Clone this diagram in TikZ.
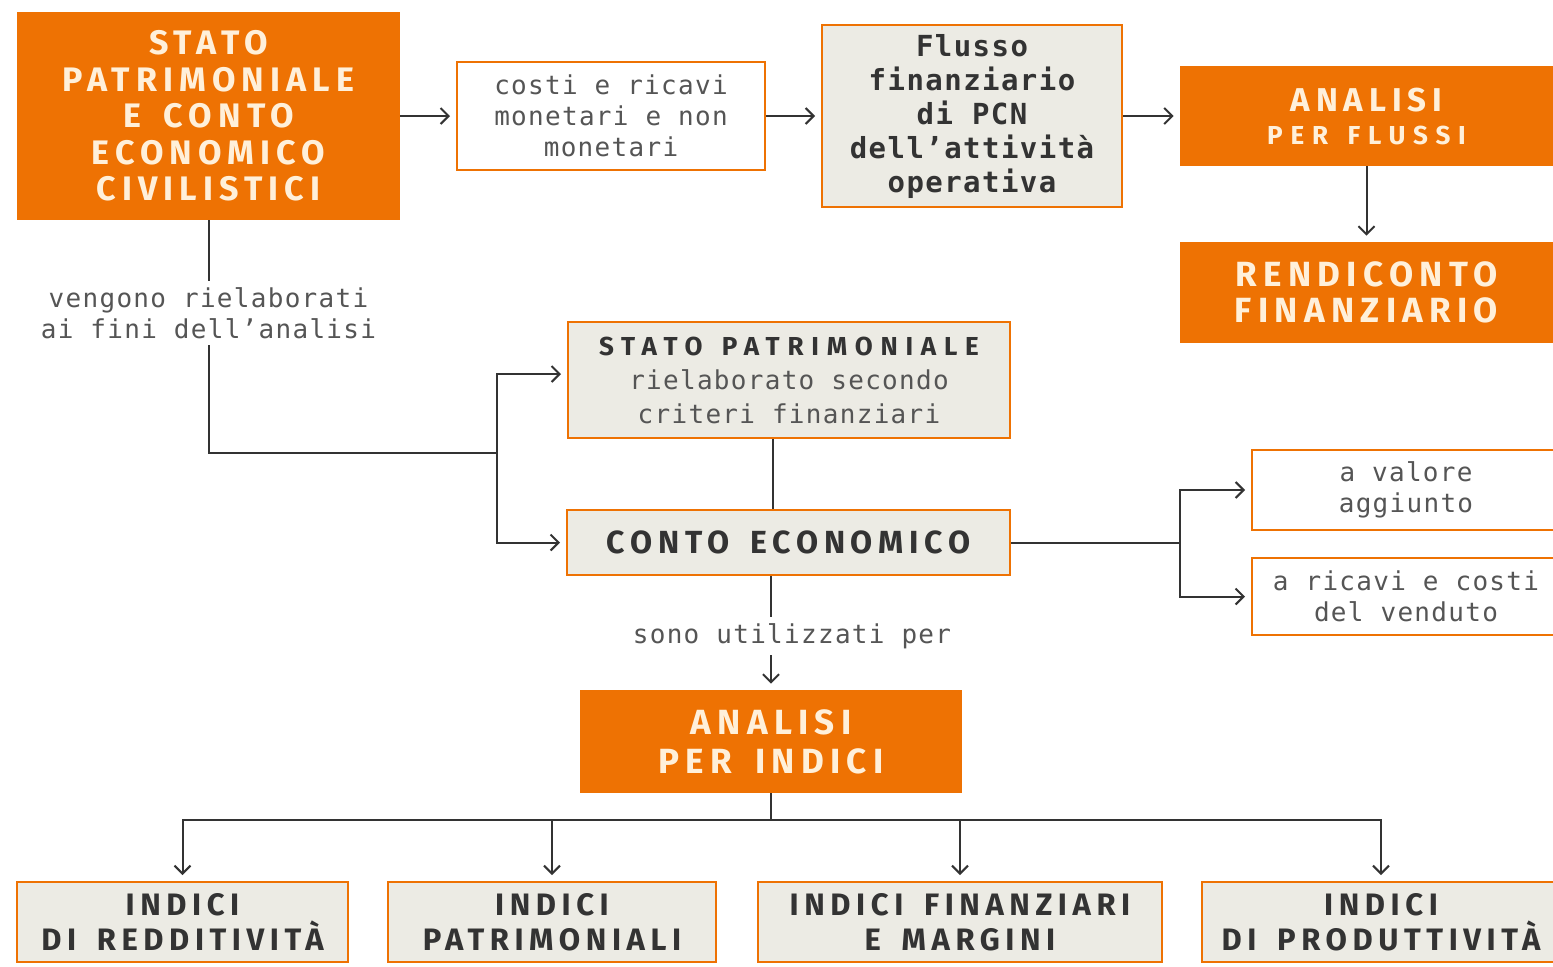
\documentclass[tikz,border=0pt]{standalone}
\usepackage{fontspec}
\usetikzlibrary{arrows.meta,calc}
\setmainfont{Fira Sans}
\newfontfamily\capsf{Fira Sans}[LetterSpace=18,WordSpace=1.6]
\newfontfamily\capsw{Fira Sans}[LetterSpace=30,WordSpace=1.4]
\newfontfamily\monof{DejaVu Sans Mono}[LetterSpace=5]
\definecolor{orng}{RGB}{238,114,3}
\definecolor{cream}{RGB}{255,240,218}
\definecolor{boxgray}{RGB}{236,235,228}
\definecolor{ink}{RGB}{51,51,51}
\definecolor{monoc}{RGB}{85,85,85}
\begin{document}
\begin{tikzpicture}[x=0.5pt,y=-0.5pt,
  sz/.style 2 args={minimum width={#1*0.5pt}, minimum height={#2*0.5pt}},
  obox/.style={fill=orng, draw=none, text=cream, font=\capsf\bfseries, align=center, inner sep=0pt},
  gbox/.style={fill=boxgray, draw=orng, line width=1pt, text=ink, align=center, inner sep=0pt},
  wbox/.style={fill=white, draw=orng, line width=1pt, text=monoc, font=\monof\fontsize{13}{15.5}\selectfont, align=center, inner sep=0pt},
  lbl/.style={text=monoc, font=\monof\fontsize{13}{15.5}\selectfont, align=center, inner sep=3pt},
  capsbox/.style={gbox, font=\capsf\bfseries\fontsize{15.5}{17.5}\selectfont},
  conn/.style={draw=ink, line width=1pt},
  arr/.style={conn, -{Straight Barb[length=4pt,width=8pt]}, shorten >=3pt},
]
\useasboundingbox (0,0) rectangle (1553,966);
\fill[white] (0,0) rectangle (1553,966);

% top row
\node[obox, sz={383}{208}, font=\capsf\bfseries\fontsize{17}{18.25}\selectfont] (sp) at (208.5,116)
  {STATO\\PATRIMONIALE\\E CONTO\\ECONOMICO\\CIVILISTICI};
\node[wbox, sz={308}{108}] (costi) at (611,116) {costi e ricavi\\monetari e non\\monetari};
\node[gbox, sz={300}{182}, font=\monof\bfseries\fontsize{14.5}{17}\selectfont] (flusso) at (972,116)
  {Flusso\\finanziario\\di PCN\\dell’attività\\operativa};
\node[obox, sz={373}{100}, font=\capsf\bfseries\fontsize{16.5}{17.5}\selectfont] (af) at (1366.5,116)
  {ANALISI\\[-1pt]{\capsw\bfseries\fontsize{13}{17.5}\selectfont PER FLUSSI}};
\node[obox, sz={373}{101}, font=\capsf\bfseries\fontsize{17.5}{18}\selectfont] (rend) at (1366.5,292.5)
  {RENDICONTO\\FINANZIARIO};

% middle
\node[lbl] (l1) at (208.5,313) {vengono rielaborati\\ai fini dell’analisi};
\node[gbox, sz={442}{116}, font=\monof\fontsize{13}{17}\selectfont, text=monoc] (spr) at (789,380)
  {{\capsw\bfseries\fontsize{13}{17}\selectfont\color{ink}STATO PATRIMONIALE}\\rielaborato secondo\\criteri finanziari};
\node[gbox, sz={443}{65}, font=\capsf\bfseries\fontsize{16}{17.5}\selectfont] (ce) at (788.5,542.5) {CONTO ECONOMICO};
\node[wbox, sz={308}{80}] (va) at (1406,490) {a valore\\aggiunto};
\node[wbox, sz={308}{77}] (rc) at (1406,596.5) {a ricavi e costi\\del venduto};
\node[lbl] (l2) at (792,636) {sono utilizzati per};
\node[obox, sz={382}{103}, font=\capsf\bfseries\fontsize{17.5}{19.5}\selectfont] (api) at (771,741.5)
  {ANALISI\\PER INDICI};

% bottom row
\node[capsbox, sz={331}{80}] (i1) at (182.5,922) {INDICI\\DI REDDITIVITÀ};
\node[capsbox, sz={328}{80}] (i2) at (552,922) {INDICI\\PATRIMONIALI};
\node[capsbox, sz={404}{80}] (i3) at (960,922) {INDICI FINANZIARI\\E MARGINI};
\node[capsbox, sz={358}{80}] (i4) at (1381,922) {INDICI\\DI PRODUTTIVITÀ};

% connectors
\draw[arr] (sp) -- (costi);
\draw[arr] (costi) -- (flusso);
\draw[arr] (flusso) -- (af);
\draw[arr] (af) -- (rend);

\coordinate (j1) at (497,453);
\draw[conn] (sp.south) -- (l1.north);
\draw[conn] (l1.south) |- (j1);
\draw[arr] (j1) |- ([yshift=3pt]spr.west);
\draw[arr] (j1) |- (ce.west);

\draw[conn] ([xshift=-8pt]spr.south) -- ([xshift=-8pt]spr.south |- ce.north);

\coordinate (j2) at (1180,542.5);
\draw[conn] (ce.east) -- (j2);
\draw[arr] (j2) |- (va.west);
\draw[arr] (j2) |- (rc.west);

\draw[conn] (api.north |- ce.south) -- (api.north |- l2.north);
\draw[arr] (api.north |- l2.south) -- (api.north);

\coordinate (j3) at (771,820);
\draw[conn] (api.south) -- (j3);
\draw[arr] (j3) -| (i1);
\draw[arr] (j3) -| (i2);
\draw[arr] (j3) -| (i3);
\draw[arr] (j3) -| (i4);
\end{tikzpicture}
\end{document}
